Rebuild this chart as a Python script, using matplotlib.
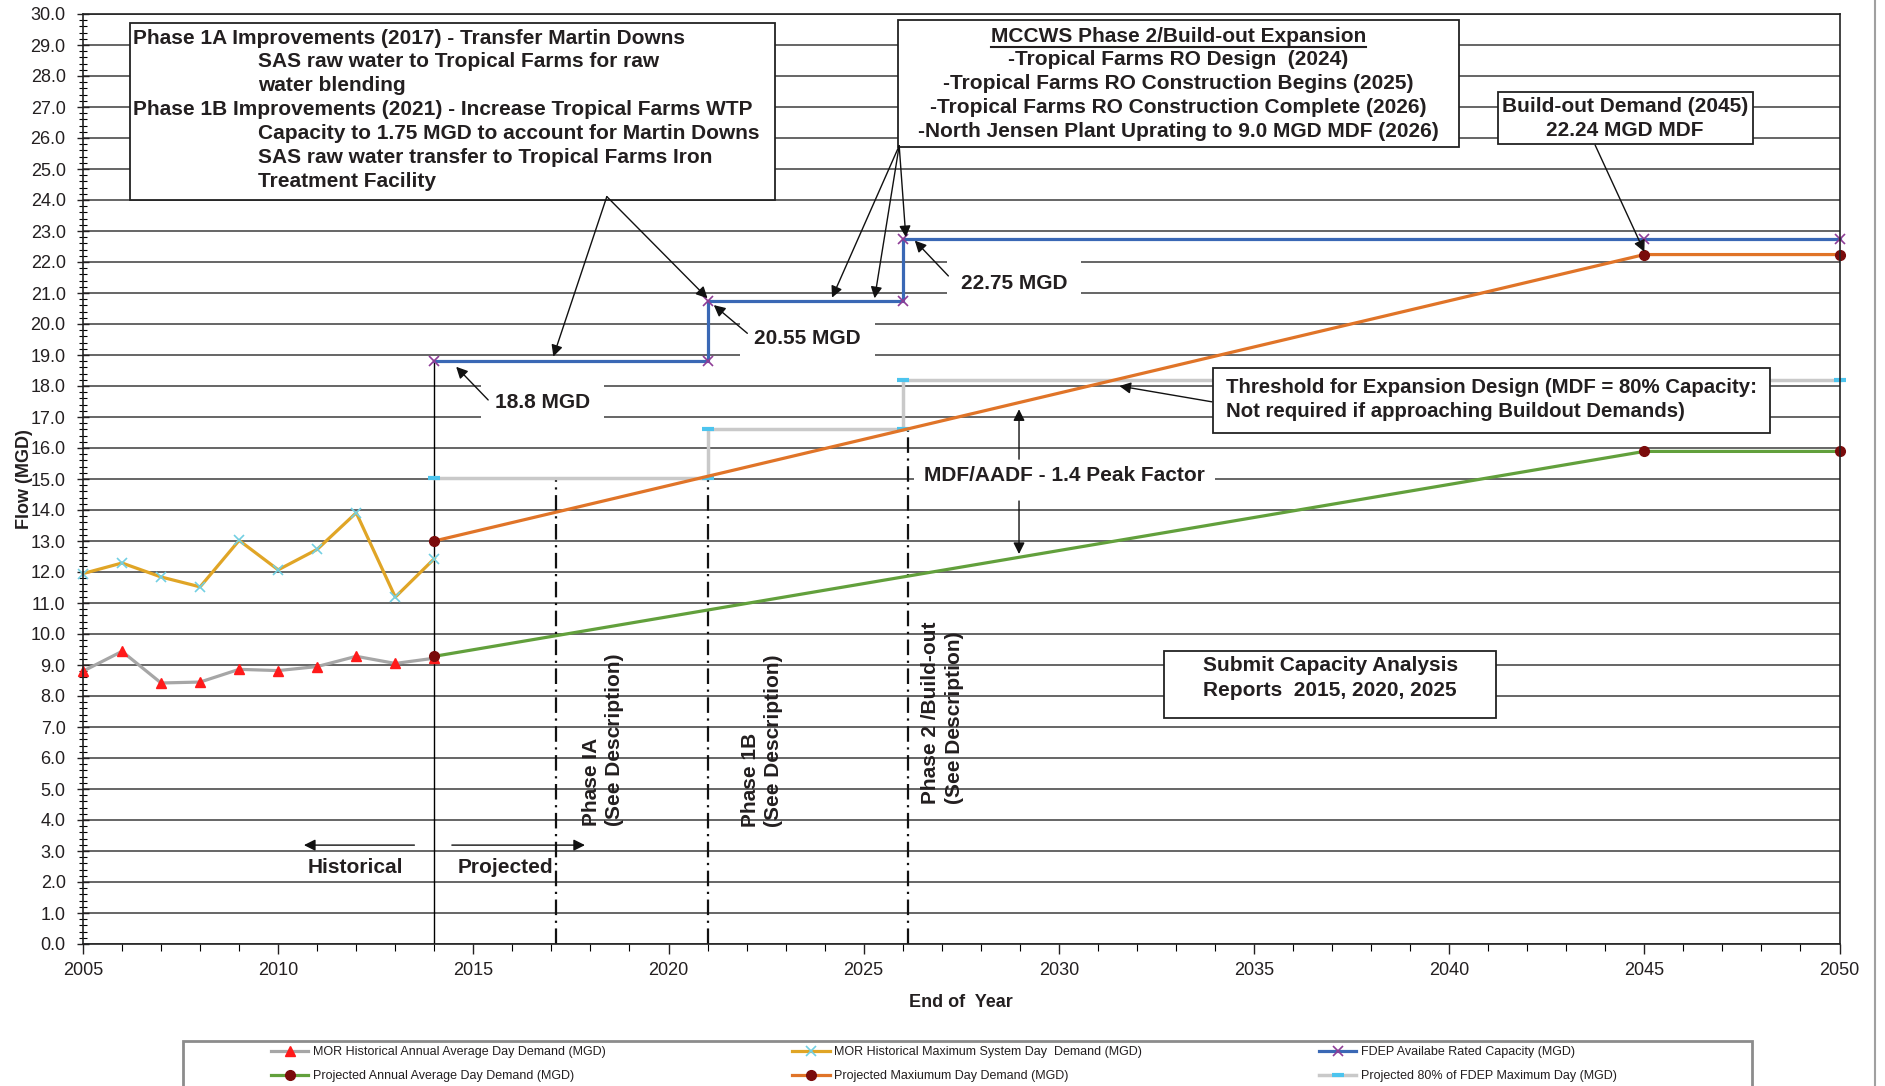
import matplotlib.pyplot as plt
import matplotlib.ticker as mticker
from matplotlib.lines import Line2D
from matplotlib.patches import Rectangle

plt.rcParams['font.family'] = ['Liberation Sans', 'DejaVu Sans']

W, H = 1885, 1086

# MOR historical data
hist_years = [2005, 2006, 2007, 2008, 2009, 2010, 2011, 2012, 2013, 2014]
hist_avg = [8.80, 9.44, 8.42, 8.45, 8.86, 8.82, 8.95, 9.28, 9.05, 9.22]
hist_max = [11.95, 12.29, 11.84, 11.52, 13.02, 12.07, 12.73, 13.91, 11.19, 12.43]

# projections
proj_years = [2014, 2045, 2050]
proj_avg = [9.28, 15.89, 15.89]
proj_max = [13.0, 22.24, 22.24]

# FDEP rated capacity (step) and its 80% threshold
cap_years = [2014, 2021, 2021, 2026, 2026, 2045, 2050]
cap_mgd = [18.8, 18.8, 20.75, 20.75, 22.75, 22.75, 22.75]
cap_80 = [15.04, 15.04, 16.6, 16.6, 18.2, 18.2, 18.2]

# phase milestone lines (year, top of line)
phase_x = [2017.12, 2021.0, 2026.14]
phase_top = [15.04, 15.04, 16.6]
phase_labels = ['Phase IA\n(See Description)', 'Phase 1B\n(See Description)',
                'Phase 2 /Build-out\n(See Description)']

labels = ['MOR Historical Annual Average Day Demand (MGD)',
          'MOR Historical Maximum System Day  Demand (MGD)',
          'FDEP Availabe Rated Capacity (MGD)',
          'Projected Annual Average Day Demand (MGD)',
          'Projected Maxiumum Day Demand (MGD)',
          'Projected 80% of FDEP Maximum Day (MGD)']

TXT = '#231f20'

fig = plt.figure(figsize=(W / 100, H / 100), dpi=100)
ax = fig.add_axes([83 / W, 1 - 944 / H, (1839.5 - 83) / W, (944 - 14) / H])

# 2014 divider
ax.plot([hist_years[-1], hist_years[-1]], [0, cap_mgd[0]], color='black', lw=1.0, zorder=1.5)
for px, top in zip(phase_x, phase_top):
    ax.plot([px, px], [0, top], color='#111111', lw=1.6,
            linestyle=(0, (7, 2.5, 1, 2.5)), zorder=1.5)

h_avg, = ax.plot(hist_years, hist_avg, color='#a6a6a6', lw=2.3, marker='^', ms=7.5,
                 mfc='#ff1a1a', mec='#ff1a1a', label=labels[0], zorder=2, clip_on=False)
h_max, = ax.plot(hist_years, hist_max, color='#e0a526', lw=2.3, marker='x', ms=7,
                 mec='#72cfe3', mew=1.2, label=labels[1], zorder=2, clip_on=False)
h_80, = ax.plot(cap_years, cap_80, color='#c9c9c9', lw=2.5, marker='_', ms=9,
                mec='#4cc4ee', mew=3, markevery=[0, 1, 2, 3, 4, 6], label=labels[5],
                zorder=2, clip_on=False)
h_cap, = ax.plot(cap_years, cap_mgd, color='#3a68b5', lw=2.3, marker='x', ms=7,
                 mec='#8e3c96', mew=1.2, label=labels[2], zorder=2.2, clip_on=False)
h_pavg, = ax.plot(proj_years, proj_avg, color='#62a03c', lw=2.3, marker='o', ms=7,
                  mfc='#7a0b0b', mec='#7a0b0b', label=labels[3], zorder=2.3, clip_on=False)
h_pmax, = ax.plot(proj_years, proj_max, color='#e07428', lw=2.3, marker='o', ms=7,
                  mfc='#7a0b0b', mec='#7a0b0b', label=labels[4], zorder=2.3, clip_on=False)

ax.set_xlim(2005, 2050)
ax.set_ylim(0, 30)
ax.xaxis.set_major_locator(mticker.MultipleLocator(5))
ax.xaxis.set_minor_locator(mticker.MultipleLocator(1))
ax.yaxis.set_major_locator(mticker.MultipleLocator(1))
ax.yaxis.set_minor_locator(mticker.MultipleLocator(0.2))
ax.yaxis.set_major_formatter(mticker.FormatStrFormatter('%.1f'))
ax.tick_params(axis='y', which='major', direction='inout', length=9, width=1,
               labelsize=13, pad=8, colors=TXT)
ax.tick_params(axis='y', which='minor', direction='inout', length=6, width=0.8)
ax.tick_params(axis='x', which='major', direction='out', length=7, width=1,
               labelsize=13, pad=6, colors=TXT)
ax.tick_params(axis='x', which='minor', direction='out', length=5, width=0.8)
ax.grid(axis='y', which='major', color='#3c3c3c', lw=1.1)
ax.set_axisbelow(True)
for sp in ax.spines.values():
    sp.set_color('#222222')
    sp.set_linewidth(1.2)

ax.set_xlabel('End of  Year', fontsize=13, fontweight='bold', color=TXT, labelpad=11)
ax.set_ylabel('Flow (MGD)', fontsize=13, fontweight='bold', color=TXT, labelpad=-1.5)

BOLD = dict(fontsize=15, fontweight='bold', color=TXT)


def box(x0, x1, y0, y1):
    ax.add_patch(Rectangle((x0, y0), x1 - x0, y1 - y0, fc='white', ec='#222222',
                           lw=1.3, zorder=4))


def arrow(start, end):
    ax.annotate('', xy=end, xytext=start, zorder=6,
                arrowprops=dict(arrowstyle='-|>', color='#111111', lw=1.0,
                                shrinkA=0, shrinkB=0, mutation_scale=17))


# Phase 1A / 1B box
box(2006.2, 2022.72, 24.0, 29.72)
box1_lines = [('Phase 1A Improvements (2017) - Transfer Martin Downs', 2006.29),
              ('SAS raw water to Tropical Farms for raw', 2009.49),
              ('water blending', 2009.49),
              ('Phase 1B Improvements (2021) - Increase Tropical Farms WTP', 2006.29),
              ('Capacity to 1.75 MGD to account for Martin Downs', 2009.49),
              ('SAS raw water transfer to Tropical Farms Iron', 2009.49),
              ('Treatment Facility', 2009.49)]
for i, (s, x) in enumerate(box1_lines):
    ax.text(x, 29.22 - i * 0.768, s, ha='left', va='center', zorder=5, **BOLD)
arrow((2018.42, 24.11), (2017.05, cap_mgd[0] + 0.15))
arrow((2018.42, 24.11), (cap_years[2], cap_mgd[2] + 0.08))

# Phase 2 box
box(2025.88, 2040.24, 25.72, 29.81)
box2_lines = ['MCCWS Phase 2/Build-out Expansion',
              '-Tropical Farms RO Design  (2024)',
              '-Tropical Farms RO Construction Begins (2025)',
              '-Tropical Farms RO Construction Complete (2026)',
              '-North Jensen Plant Uprating to 9.0 MGD MDF (2026)']
box2_texts = []
for i, s in enumerate(box2_lines):
    box2_texts.append(ax.text(2033.06, 29.29 - i * 0.772, s, ha='center', va='center',
                              zorder=5, **BOLD))
arrow((2025.91, 25.75), (2024.19, cap_mgd[2] + 0.1))
arrow((2025.91, 25.75), (2025.28, cap_mgd[3] + 0.08))
arrow((2025.91, 25.75), (cap_years[4] + 0.08, cap_mgd[4] + 0.05))

# capacity labels
lab = dict(ha='left', va='center', zorder=5,
           bbox=dict(fc='white', ec='none', pad=10), **BOLD)
ax.text(2015.56, 17.46, '18.8 MGD', **lab)
arrow((2015.38, 17.55), (2014.56, 18.62))
ax.text(2022.19, 19.54, '20.55 MGD', **lab)
arrow((2022.02, 19.7), (2021.16, 20.61))
ax.text(2027.49, 21.31, '22.75 MGD', **lab)
arrow((2027.17, 21.55), (2026.31, 22.69))

# build-out box
box(2041.25, 2047.78, 25.8, 27.49)
ax.text(2044.51, 26.63, 'Build-out Demand (2045)\n22.24 MGD MDF', ha='center', va='center',
        linespacing=1.35, zorder=5, **BOLD)
arrow((2043.74, 25.77), (proj_years[1], proj_max[1] + 0.09))

# threshold box
box(2033.95, 2048.22, 16.49, 18.57)
ax.text(2034.29, 17.575, 'Threshold for Expansion Design (MDF = 80% Capacity:\n'
        'Not required if approaching Buildout Demands)', ha='left', va='center',
        linespacing=1.35, zorder=5, fontsize=14.7, fontweight='bold', color=TXT)
arrow((2033.92, 17.49), (2031.55, 18.0))

# peak factor
ax.text(2026.55, 15.11, 'MDF/AADF - 1.4 Peak Factor', ha='left', va='center', zorder=5,
        bbox=dict(fc='white', ec='none', pad=7), **BOLD)
arrow((2028.98, 15.64), (2028.98, 17.25))
arrow((2028.98, 14.29), (2028.98, 12.58))

# capacity report box
box(2032.7, 2041.2, 7.28, 9.46)
ax.text(2036.95, 8.58, 'Submit Capacity Analysis\nReports  2015, 2020, 2025', ha='center',
        va='center', linespacing=1.35, zorder=5, **BOLD)

# historical / projected
arrow((2013.49, 3.19), (2010.66, 3.19))
arrow((2014.45, 3.19), (2017.86, 3.19))
ax.text(2011.99, 2.46, 'Historical', ha='center', va='center', zorder=5, **BOLD)
ax.text(2015.81, 2.47, 'Projected', ha='center', va='center', zorder=5, **BOLD)

# phase labels
for (px, py), s in zip([(2017.78, 3.81), (2021.85, 3.78), (2026.48, 4.52)], phase_labels):
    ax.text(px, py, s, rotation=90, ha='left', va='bottom', multialignment='left',
            linespacing=1.3, zorder=5, **BOLD)

# underline of the Phase 2 title
fig.canvas.draw()
bb = box2_texts[0].get_window_extent(renderer=fig.canvas.get_renderer())
inv = ax.transData.inverted()
ux0 = inv.transform((bb.x0, 0))[0]
ux1 = inv.transform((bb.x1, 0))[0]
ax.plot([ux0, ux1], [28.92, 28.92], color=TXT, lw=1.5, zorder=5)

# legend, three columns placed like the original
cols = [([h_avg, h_pavg], 270.8), ([h_max, h_pmax], 792), ([h_cap, h_80], 1318.8)]
for handles, xpx in cols:
    fig.legend(handles=handles, loc='upper left', bbox_to_anchor=(xpx / W, 1 - 1046 / H),
               frameon=False, fontsize=9, handlelength=3.0, handletextpad=0.35,
               labelspacing=0.95, borderpad=0, borderaxespad=0, labelcolor=TXT)
fig.add_artist(Rectangle((182.7 / W, -0.05), (1751.6 - 182.7) / W, 0.05 + 1 - 1041 / H,
                         transform=fig.transFigure, fill=False, ec='#8c8c8c', lw=2))
fig.add_artist(Line2D([1875 / W, 1875 / W], [0, 1], color='#a0a0a0', lw=1.5))

fig.savefig('out.png', dpi=100)
